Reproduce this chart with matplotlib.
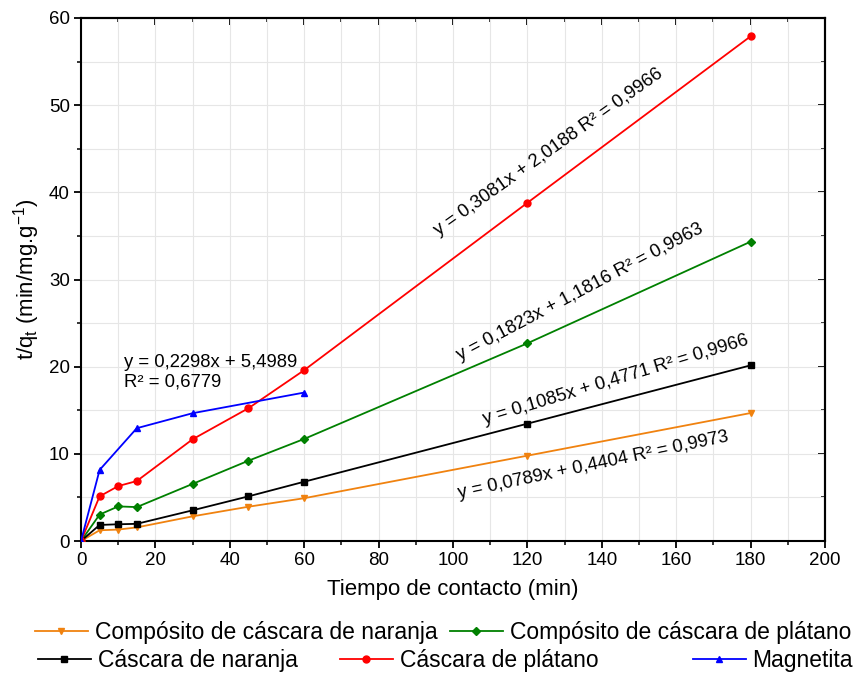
import numpy as np
import matplotlib
matplotlib.use("Agg")
import matplotlib.pyplot as plt
from matplotlib.ticker import MultipleLocator
from matplotlib.lines import Line2D

plt.rcParams["font.family"] = ["Liberation Sans", "DejaVu Sans"]
plt.rcParams["mathtext.fontset"] = "custom"
plt.rcParams["mathtext.rm"] = "Liberation Sans"

# ── data ────────────────────────────────────────────────────────────────────
tiempo = [0, 5, 10, 15, 30, 45, 60, 120, 180]
comp_naranja = [0, 1.23, 1.31, 1.56, 2.83, 3.93, 4.91, 9.79, 14.68]
comp_platano = [0, 3.03, 3.97, 3.89, 6.55, 9.21, 11.71, 22.68, 34.34]
casc_naranja = [0, 1.84, 1.92, 1.97, 3.52, 5.12, 6.80, 13.46, 20.15]
casc_platano = [0, 5.12, 6.30, 6.88, 11.67, 15.23, 19.60, 38.80, 57.90]
tiempo_mag = [0, 5, 15, 30, 60]
magnetita = [0, 8.15, 12.94, 14.66, 17.03]

labels = ["Compósito de cáscara de naranja", "Compósito de cáscara de plátano",
          "Cáscara de naranja", "Cáscara de plátano", "Magnetita"]

ecuaciones = [
    ("y = 0,3081x + 2,0188 R² = 0,9966", 125.6, 44.66, 35.4),
    ("y = 0,1823x + 1,1816 R² = 0,9963", 134.1, 28.6, 27.8),
    ("y = 0,1085x + 0,4771 R² = 0,9966", 143.8, 18.47, 16.8),
    ("y = 0,0789x + 0,4404 R² = 0,9973", 137.7, 8.72, 11.9),
]
ec_magnetita = "y = 0,2298x + 5,4989\nR² = 0,6779"

# ── figure ──────────────────────────────────────────────────────────────────
W, H = 855, 677
fig = plt.figure(figsize=(W / 100, H / 100), dpi=100)
ax = fig.add_axes([81 / W, 1 - 541 / H, (825 - 81) / W, (541 - 18) / H])

ORANGE = "#f0820f"
series = [
    (tiempo, comp_naranja, ORANGE, "v"),
    (tiempo, comp_platano, "#008000", "D"),
    (tiempo, casc_naranja, "black", "s"),
    (tiempo, casc_platano, "#ff0000", "o"),
    (tiempo_mag, magnetita, "#0000ff", "^"),
]
handles = []
for (x, y, c, m), lab in zip(series, labels):
    ms = 4 if m == "D" else 5
    (ln,) = ax.plot(x, y, color=c, marker=m, ms=ms, lw=1.3, label=lab, zorder=3)
    handles.append(ln)

ax.set_xlim(0, 200)
ax.set_ylim(0, 60)
ax.xaxis.set_major_locator(MultipleLocator(20))
ax.xaxis.set_minor_locator(MultipleLocator(10))
ax.yaxis.set_major_locator(MultipleLocator(10))
ax.yaxis.set_minor_locator(MultipleLocator(5))
ax.grid(which="both", color="#e6e6e6", lw=0.8, zorder=0)
ax.set_axisbelow(True)

for sp in ax.spines.values():
    sp.set_linewidth(1.5)
ax.tick_params(which="major", direction="out", length=5, width=1.3, labelsize=13.5, pad=3)
ax.tick_params(which="minor", direction="out", length=3, width=1.1)

# mirrored axes on top/right with inward ticks
top = ax.secondary_xaxis("top")
top.xaxis.set_major_locator(MultipleLocator(20))
top.xaxis.set_minor_locator(MultipleLocator(10))
top.tick_params(which="major", direction="in", length=5, width=1.3, labeltop=False)
top.tick_params(which="minor", direction="in", length=3, width=1.1)
right = ax.secondary_yaxis("right")
right.yaxis.set_major_locator(MultipleLocator(10))
right.yaxis.set_minor_locator(MultipleLocator(5))
right.tick_params(which="major", direction="in", length=5, width=1.3, labelright=False)
right.tick_params(which="minor", direction="in", length=3, width=1.1)
for sec in (top, right):
    for sp in sec.spines.values():
        sp.set_linewidth(1.5)

ax.set_xlabel("Tiempo de contacto (min)", fontsize=16, labelpad=7)
ax.set_ylabel(r"t/q$_\mathregular{t}$ (min/mg.g$^\mathregular{-1}$)", fontsize=16, labelpad=5)

for txt, x, y, rot in ecuaciones:
    ax.text(x, y, txt, fontsize=13.3, rotation=rot, rotation_mode="anchor",
            ha="center", va="center")
ax.text(11.6, 19.37, ec_magnetita, fontsize=13.3, ha="left", va="center", linespacing=1.15)

# ── legend: one entry per position, two rows below the plot ──────────────────
posiciones = [(35, 633), (450, 633), (38, 661), (340, 661), (693, 661)]
for h, (px, py) in zip(handles, posiciones):
    fig.legend(handles=[h], loc="center left", bbox_to_anchor=(px / W, 1 - py / H),
               frameon=False, fontsize=16.5, borderpad=0, borderaxespad=0,
               handlelength=2.3, handletextpad=0.3)

fig.savefig("out.png", dpi=100)
